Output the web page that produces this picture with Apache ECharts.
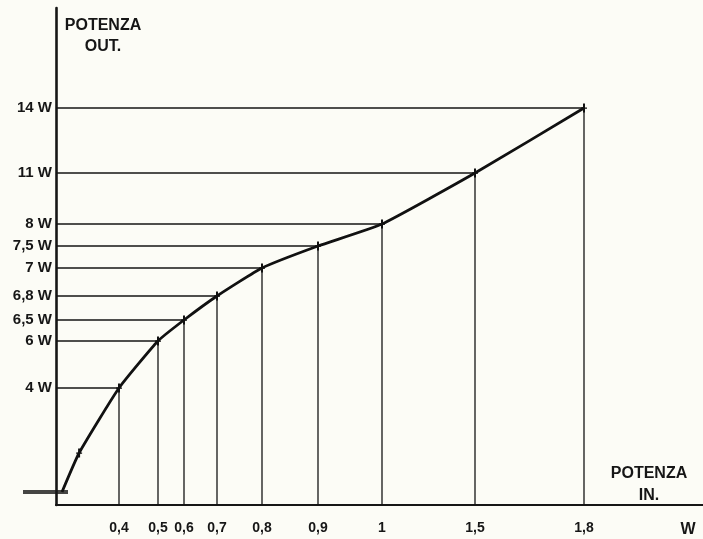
<!DOCTYPE html>
<html>
<head>
<meta charset="utf-8">
<script src="https://cdn.jsdelivr.net/npm/echarts@6/dist/echarts.min.js"></script>
<style>
  html, body { margin: 0; padding: 0; background: #fcfcf6; }
  #chart { width: 703px; height: 539px; }
</style>
</head>
<body>
<div id="chart"></div>
<script>
// potenza in ingresso (W) -> potenza in uscita (W)
var inputPower = [0, 0.12, 0.4, 0.5, 0.6, 0.7, 0.8, 0.9, 1, 1.5, 1.8]
var outputPower = [0, 1.5, 4, 6, 6.5, 6.8, 7, 7.5, 8, 11, 14]

var xTicks = [0.4, 0.5, 0.6, 0.7, 0.8, 0.9, 1, 1.5, 1.8]
var xTickLabels = ['0,4', '0,5', '0,6', '0,7', '0,8', '0,9', '1', '1,5', '1,8']
var yTicks = [4, 6, 6.5, 6.8, 7, 7.5, 8, 11, 14]
var yTickLabels = ['4 W', '6 W', '6,5 W', '6,8 W', '7 W', '7,5 W', '8 W', '11 W', '14 W']

// the original drawing is ruled by hand, unevenly: piecewise scale value -> axis unit
var xRulingValue = [0, 0.4, 0.5, 0.6, 0.7, 0.8, 0.9, 1, 1.5, 1.8]
var xRulingUnit = [6, 63, 102, 128, 161, 206, 262, 326, 419, 528]
var yRulingValue = [0, 4, 6, 6.5, 6.8, 7, 7.5, 8, 11, 14]
var yRulingUnit = [13, 117, 164, 185, 209, 237, 259, 281, 332, 397]

var X_MAX = 647
var Y_MAX = 497

function ruling(values, units) {
  return function (v) {
    var i = 1
    while (i < values.length - 1 && v > values[i]) i++
    var v0 = values[i - 1], v1 = values[i]
    return units[i - 1] + (v - v0) / (v1 - v0) * (units[i] - units[i - 1])
  }
}
var sx = ruling(xRulingValue, xRulingUnit)
var sy = ruling(yRulingValue, yRulingUnit)

function labelFor(ticks, labels, scale) {
  return function (val) {
    for (var i = 0; i < ticks.length; i++) {
      if (Math.abs(scale(ticks[i]) - val) < 0.01) return labels[i]
    }
    return ''
  }
}

var ink = '#161616'
var cross = 'path://M2,0H4V9H2ZM0,4H6V5.3H0Z'

var guideSeries = []
inputPower.forEach(function (x, i) {
  if (xTicks.indexOf(x) < 0) return
  var ux = sx(x), uy = sy(outputPower[i])
  guideSeries.push({
    type: 'line',
    silent: true,
    symbol: 'none',
    z: 1,
    lineStyle: { color: '#151515', width: 1.3 },
    data: [[0, uy], [ux, uy], [ux, 0]]
  })
})

var chart = echarts.init(document.getElementById('chart'))
chart.setOption({
  backgroundColor: '#fcfcf6',
  animation: false,
  grid: {
    left: 56,
    right: 0,
    top: 8,
    bottom: 34,
    outerBoundsMode: 'none'
  },
  xAxis: {
    type: 'value',
    min: 0,
    max: X_MAX,
    splitLine: { show: false },
    axisTick: { show: false },
    axisLine: { lineStyle: { color: ink, width: 2.2 } },
    axisLabel: {
      customValues: xTicks.map(sx),
      formatter: labelFor(xTicks, xTickLabels, sx),
      hideOverlap: false,
      margin: 16,
      color: ink,
      fontFamily: 'Liberation Sans, Arial, sans-serif',
      fontWeight: 'bold',
      fontSize: 14
    }
  },
  yAxis: {
    type: 'value',
    min: 0,
    max: Y_MAX,
    splitLine: { show: false },
    axisTick: { show: false },
    axisLine: { lineStyle: { color: ink, width: 2.6 } },
    axisLabel: {
      customValues: yTicks.map(sy),
      formatter: labelFor(yTicks, yTickLabels, sy),
      hideOverlap: false,
      margin: 4,
      color: ink,
      fontFamily: 'Liberation Sans, Arial, sans-serif',
      fontWeight: 'bold',
      fontSize: 15
    }
  },
  graphic: [
    {
      type: 'text',
      x: 103,
      y: 15,
      style: {
        text: 'POTENZA\nOUT.',
        align: 'center',
        verticalAlign: 'top',
        lineHeight: 21,
        fill: ink,
        font: 'bold 16px "Liberation Sans", Arial, sans-serif'
      }
    },
    {
      type: 'text',
      x: 649,
      y: 463,
      style: {
        text: 'POTENZA\nIN.',
        align: 'center',
        verticalAlign: 'top',
        lineHeight: 22,
        fill: ink,
        font: 'bold 16px "Liberation Sans", Arial, sans-serif'
      }
    },
    {
      type: 'text',
      x: 688,
      y: 530,
      style: {
        text: 'W',
        align: 'center',
        verticalAlign: 'middle',
        fill: ink,
        font: 'bold 16px "Liberation Sans", Arial, sans-serif'
      }
    }
  ],
  series: guideSeries.concat([
    {
      // thick zero mark at the start of the curve
      type: 'scatter',
      silent: true,
      clip: false,
      z: 3,
      symbol: 'rect',
      symbolSize: [45, 4],
      symbolOffset: [-16.5, 0],
      itemStyle: { color: ink },
      data: [[sx(inputPower[0]), sy(outputPower[0])]]
    },
    {
      type: 'line',
      silent: true,
      z: 4,
      smooth: 0.15,
      showAllSymbol: true,
      symbol: cross,
      symbolSize: [6, 9],
      lineStyle: { color: '#111', width: 2.8 },
      itemStyle: { color: '#111' },
      data: inputPower.map(function (x, i) {
        var p = { value: [sx(x), sy(outputPower[i])] }
        if (i === 0) p.symbol = 'none'
        return p
      })
    }
  ])
})
</script>
</body>
</html>
